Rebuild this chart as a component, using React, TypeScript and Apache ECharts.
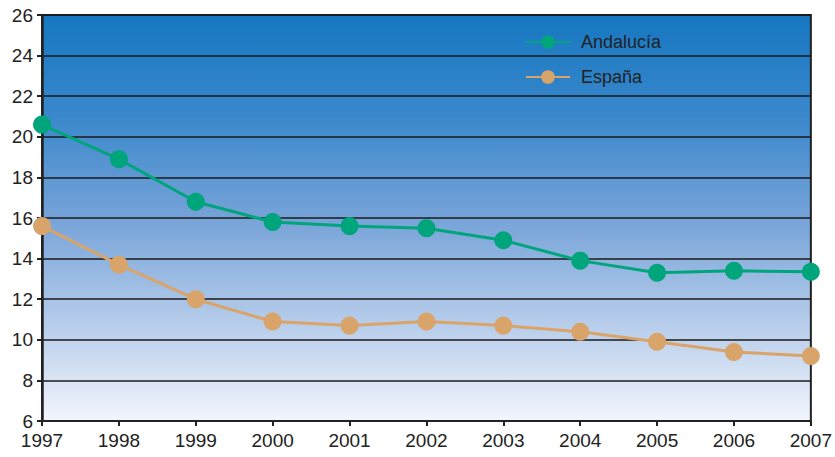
import React, { useEffect, useRef } from "react";
import * as echarts from "echarts";

const years = ["1997", "1998", "1999", "2000", "2001", "2002", "2003", "2004", "2005", "2006", "2007"];
const andalucia = [20.6, 18.9, 16.8, 15.8, 15.6, 15.5, 14.9, 13.9, 13.3, 13.4, 13.35];
const espana = [15.6, 13.7, 12.0, 10.9, 10.7, 10.9, 10.7, 10.4, 9.9, 9.4, 9.2];

export default function App() {
  const ref = useRef<HTMLDivElement>(null);
  useEffect(() => {
    if (!ref.current) return;
    const chart = echarts.init(ref.current, null, { renderer: "svg" });
    chart.setOption({
      animation: false,
      textStyle: { fontFamily: "Liberation Sans, Arial, sans-serif" },
      grid: {
        left: 42,
        right: 18,
        top: 15,
        bottom: 36,
        show: true,
        borderColor: "#222",
        borderWidth: 2,
        backgroundColor: new echarts.graphic.LinearGradient(0, 0, 0, 1, [
          { offset: 0, color: "#1677c0" },
          { offset: 0.25, color: "#3a88cc" },
          { offset: 0.5, color: "#76a3d8" },
          { offset: 0.75, color: "#b4cbea" },
          { offset: 1, color: "#f2f5fc" },
        ]),
      },
      legend: {
        orient: "vertical",
        left: 520,
        top: 28,
        itemWidth: 44,
        itemHeight: 17,
        itemGap: 17,
        textStyle: {
          fontSize: 18,
          color: "#222",
          padding: [0, 0, 0, 6],
          fontFamily: "Liberation Sans, Arial, sans-serif",
        },
        data: ["Andalucía", "España"],
      },
      xAxis: {
        type: "category",
        data: years,
        boundaryGap: false,
        axisLine: { lineStyle: { color: "#222", width: 2 } },
        axisTick: { show: true, alignWithLabel: true, length: 5, lineStyle: { color: "#222", width: 2 } },
        axisLabel: { fontSize: 19, color: "#222", margin: 10, fontFamily: "Liberation Sans, Arial, sans-serif" },
      },
      yAxis: {
        type: "value",
        min: 6,
        max: 26,
        interval: 2,
        axisLine: { show: true, lineStyle: { color: "#222", width: 2.5 } },
        axisTick: { show: true, length: 5, lineStyle: { color: "#222", width: 2 } },
        axisLabel: { fontSize: 19, color: "#222", margin: 9, fontFamily: "Liberation Sans, Arial, sans-serif" },
        splitLine: { lineStyle: { color: "#1a1a1a", width: 1.5 } },
      },
      series: [
        {
          name: "Andalucía",
          type: "line",
          data: andalucia,
          color: "#00a57c",
          lineStyle: { width: 3 },
          symbol: "circle",
          symbolSize: 18,
          itemStyle: { color: "#00a57c" },
        },
        {
          name: "España",
          type: "line",
          data: espana,
          color: "#d9a46a",
          lineStyle: { width: 3 },
          symbol: "circle",
          symbolSize: 18,
          itemStyle: { color: "#d9a46a" },
        },
      ],
    });
    return () => chart.dispose();
  }, []);
  return <div ref={ref} style={{ width: 835, height: 457, position: "absolute", left: 0, top: 0 }} />;
}
